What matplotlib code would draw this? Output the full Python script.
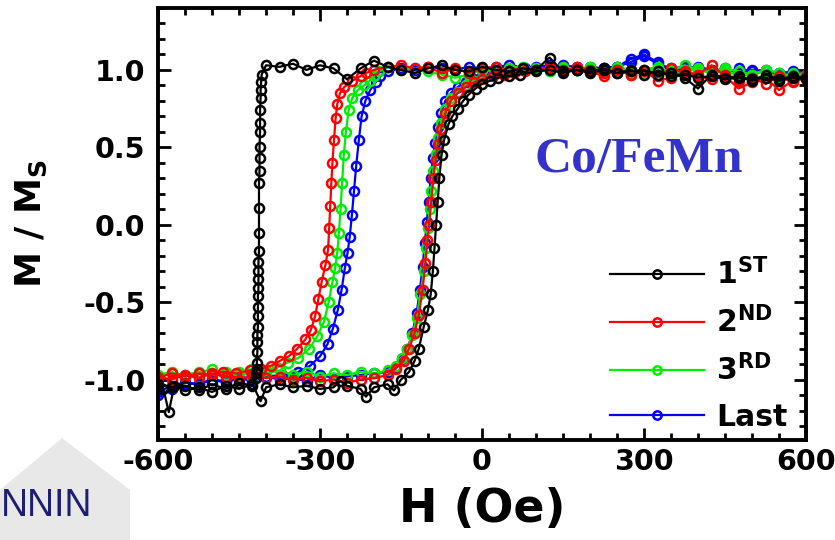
import numpy as np
import matplotlib
matplotlib.use("Agg")
import matplotlib.pyplot as plt
from matplotlib.ticker import MultipleLocator
from matplotlib.patches import Polygon

plt.rcParams['font.family'] = ['DejaVu Sans']
plt.rcParams['mathtext.fontset'] = 'custom'
plt.rcParams['mathtext.rm'] = 'DejaVu Sans'
plt.rcParams['mathtext.bf'] = 'DejaVu Sans:bold'

# ---------------- data (H in Oe, M/Ms) ----------------
labels = ['1$^{\\mathbf{ST}}$', '2$^{\\mathbf{ND}}$', '3$^{\\mathbf{RD}}$', 'Last']
colors = ['#000000', '#ff0000', '#00ee00', '#0000ff']

# 1st loop (black)
h1_down = [600, 575, 550, 525, 500, 475, 450, 425, 400, 375, 350, 325, 300, 275, 250, 225, 200, 175, 150, 125,
           100, 75, 50, 25, 0, -25, -50, -75, -100, -125, -150, -175, -200, -225, -250, -275, -300, -325, -350,
           -375, -400,
           -408, -409, -410, -410, -411, -411, -411, -412, -412, -412, -413, -413, -413, -413, -414, -414, -414,
           -414, -415, -415, -415, -415, -416, -416, -416, -417, -417, -418, -418,
           -425, -450, -475, -500, -525, -550, -575, -600]
m1_down = [0.95, 0.96, 0.94, 0.97, 0.93, 0.96, 0.95, 0.97, 0.88, 0.95, 0.98, 0.97, 1.00, 0.99, 0.98, 1.00, 0.98,
           1.00, 0.99, 1.08, 1.00, 1.01, 0.99, 1.00, 1.02, 0.99, 1.00, 1.03, 1.01, 0.98, 1.00, 1.02, 1.06, 1.01,
           0.94, 1.01, 1.03, 1.00, 1.04, 1.02, 1.03,
           0.97, 0.92, 0.87, 0.82, 0.74, 0.66, 0.60, 0.50, 0.43, 0.35, 0.27, 0.11, -0.05, -0.17, -0.24, -0.30,
           -0.35, -0.41, -0.46, -0.53, -0.59, -0.66, -0.71, -0.76, -0.82, -0.89, -0.93, -0.96, -0.99,
           -1.04, -1.02, -1.06, -1.03, -1.07, -1.04, -1.05, -1.03]
h1_up = [-600, -590, -580, -570, -550, -525, -500, -475, -450, -425, -410, -400, -375, -350, -325, -300, -275,
         -262, -250, -225, -215, -200, -175, -163, -150, -135, -125, -117, -108, -100, -95, -91, -88, -85, -82,
         -79, -75, -70, -62, -55, -45, -35, -25, -12, 0, 15, 30, 50, 70, 100, 125, 150, 175, 200, 225, 250,
         275, 300, 325, 350, 375, 400, 425, 450, 475, 500, 525, 550, 575, 600]
m1_up = [-1.05, -1.06, -1.21, -1.04, -1.07, -1.05, -1.08, -1.04, -1.06, -1.03, -1.14, -1.05, -1.03, -1.05,
         -1.04, -1.06, -1.05, -1.01, -1.04, -1.06, -1.11, -1.05, -1.03, -1.07, -1.00, -0.95, -0.88, -0.80,
         -0.66, -0.55, -0.45, -0.30, -0.15, 0.00, 0.15, 0.30, 0.45, 0.55, 0.65, 0.70, 0.75, 0.80, 0.84, 0.88,
         0.91, 0.93, 0.95, 0.96, 0.97, 0.99, 1.00, 0.98, 1.00, 0.99, 1.01, 0.98, 1.00, 0.97, 0.99, 0.96, 0.97,
         0.95, 0.96, 0.94, 0.95, 0.94, 0.95, 0.93, 0.95, 0.94]

# 2nd loop (red)
h2_down = [600, 575, 550, 525, 500, 475, 450, 425, 400, 375, 350, 325, 300, 275, 250, 225, 200, 175, 150, 125,
           100, 75, 50, 25, 0, -25, -50, -75, -100, -125, -150, -175, -200,
           -215, -225, -240, -255, -263, -268, -271, -274, -277, -279, -281, -283, -285, -290, -297, -303, -309,
           -317, -327, -342, -358, -375, -390, -410, -430, -455, -480, -500, -525, -550, -575, -600]
m2_down = [0.97, 0.93, 0.87, 0.95, 0.92, 0.88, 0.96, 1.03, 0.97, 0.99, 0.95, 0.93, 1.00, 0.97, 1.00, 0.96, 0.99,
           1.01, 1.00, 1.02, 1.00, 1.01, 0.99, 1.02, 1.01, 0.98, 1.01, 0.98, 1.02, 1.01, 1.03, 1.02, 1.00,
           0.98, 0.96, 0.93, 0.89, 0.85, 0.78, 0.69, 0.55, 0.40, 0.27, 0.12, -0.02, -0.16, -0.26, -0.37, -0.48,
           -0.59, -0.68, -0.74, -0.80, -0.85, -0.88, -0.91, -0.93, -0.94, -0.96, -0.95, -0.97, -0.96, -0.98,
           -0.96, -0.99]
h2_up = [-600, -575, -550, -525, -500, -475, -450, -425, -400, -375, -350, -325, -300, -275, -250, -225, -200,
         -175, -160, -145, -135, -125, -117, -110, -105, -101, -98, -94, -90, -86, -82, -76, -68, -58, -45, -30,
         -15, 0, 20, 40, 60, 80, 100, 125, 150, 175, 200, 225, 250, 275, 300, 325, 350, 375, 400, 425, 450, 475,
         500, 525, 550, 575, 600]
m2_up = [-0.98, -1.00, -0.97, -0.99, -0.96, -0.98, -1.00, -0.97, -0.99, -0.98, -1.00, -0.99, -1.01, -1.00,
         -1.02, -1.00, -0.99, -0.97, -0.93, -0.88, -0.80, -0.70, -0.58, -0.42, -0.25, -0.10, 0.00, 0.15, 0.30,
         0.42, 0.52, 0.62, 0.72, 0.80, 0.85, 0.89, 0.92, 0.94, 0.96, 0.97, 0.98, 0.99, 1.00, 1.01, 0.99, 1.02,
         1.00, 0.98, 1.00, 0.97, 0.99, 0.96, 1.01, 0.98, 0.96, 0.94, 0.97, 0.93, 0.95, 0.91, 0.96, 0.92, 0.95]

# 3rd loop (green)
h3_down = [600, 575, 550, 525, 500, 475, 450, 425, 400, 375, 350, 325, 300, 275, 250, 225, 200, 175, 150, 125,
           100, 75, 50, 25, 0, -25, -50, -75, -100, -125, -150, -175,
           -190, -200, -208, -218, -230, -240, -247, -252, -256, -259, -262, -265, -268, -272, -277, -284, -293,
           -305, -320, -340, -360, -380, -400, -425, -450, -475, -500, -525, -550, -575, -600]
m3_down = [0.97, 0.98, 0.95, 0.99, 0.97, 0.96, 1.00, 0.98, 1.01, 0.99, 0.97, 1.02, 1.00, 0.98, 1.01, 0.99, 1.02,
           1.00, 1.01, 0.99, 1.00, 1.02, 1.01, 0.99, 1.00, 0.97, 0.95, 0.97, 0.99, 1.01, 1.00, 1.02,
           0.99, 0.96, 0.93, 0.90, 0.87, 0.82, 0.74, 0.60, 0.45, 0.27, 0.10, -0.05, -0.18, -0.28, -0.37, -0.50,
           -0.63, -0.72, -0.80, -0.86, -0.89, -0.92, -0.94, -0.93, -0.96, -0.95, -0.97, -0.95, -0.97, -0.96, -0.98]
h3_up = [-600, -575, -550, -525, -500, -475, -450, -425, -400, -375, -350, -325, -300, -275, -250, -225, -200,
         -175, -160, -148, -138, -129, -121, -114, -108, -104, -100, -97, -94, -90, -86, -82, -76, -68, -58, -45,
         -30, -15, 0, 20, 40, 60, 80, 100, 125, 150, 175, 200, 225, 250, 275, 300, 325, 350, 375, 400, 425, 450,
         475, 500, 525, 550, 575, 600]
m3_up = [-0.97, -0.95, -0.98, -0.96, -0.93, -0.97, -0.95, -0.98, -0.96, -0.94, -0.97, -0.95, -0.98, -0.96,
         -0.97, -0.95, -0.96, -0.94, -0.91, -0.86, -0.80, -0.71, -0.60, -0.45, -0.30, -0.15, -0.02, 0.10, 0.22,
         0.35, 0.46, 0.56, 0.66, 0.75, 0.82, 0.86, 0.90, 0.93, 0.95, 0.96, 0.98, 0.99, 1.00, 1.01, 0.99, 1.02,
         1.00, 1.01, 0.99, 1.02, 1.00, 0.98, 1.01, 0.99, 1.03, 1.00, 0.98, 1.01, 0.99, 0.97, 1.00, 0.98, 0.96,
         0.97]

# Last loop (blue)
h4_down = [600, 575, 550, 525, 500, 475, 450, 425, 400, 375, 350, 325, 300, 275, 250, 225, 200, 175, 150, 125,
           100, 75, 50, 25, 0, -25, -50, -75, -100, -125, -150, -175,
           -188, -197, -207, -216, -223, -228, -233, -237, -241, -245, -249, -254, -260, -267, -276, -286, -300,
           -318, -340, -370, -400, -425, -450, -475, -500, -525, -550, -575, -600]
m4_down = [0.97, 0.99, 0.98, 1.00, 0.99, 1.01, 0.98, 1.00, 1.02, 1.01, 0.99, 1.05, 1.10, 1.07, 1.02, 1.01, 1.02,
           1.00, 1.01, 1.03, 1.02, 1.01, 1.03, 1.02, 1.01, 1.02, 1.00, 1.01, 1.02, 1.00, 1.01, 0.99,
           0.96, 0.92, 0.87, 0.80, 0.70, 0.55, 0.38, 0.22, 0.06, -0.08, -0.18, -0.28, -0.42, -0.55, -0.67, -0.77,
           -0.85, -0.91, -0.95, -0.97, -0.98, -1.00, -0.99, -1.01, -1.00, -1.03, -1.02, -1.06, -1.10]
h4_up = [-600, -575, -550, -525, -500, -475, -450, -425, -400, -375, -350, -325, -300, -275, -250, -225, -200,
         -175, -160, -148, -138, -129, -121, -115, -110, -106, -102, -99, -95, -91, -87, -82, -76, -68, -58, -45,
         -30, -15, 0, 20, 40, 60, 80, 100, 125, 150, 175, 200, 225, 250, 275, 300, 325, 350, 375, 400, 425, 450,
         475, 500, 525, 550, 575, 600]
m4_up = [-1.08, -1.04, -1.02, -1.03, -1.00, -1.02, -0.99, -1.01, -0.98, -1.00, -0.99, -1.01, -0.97, -0.99,
         -0.98, -0.97, -0.96, -0.95, -0.92, -0.87, -0.80, -0.70, -0.57, -0.42, -0.27, -0.12, 0.02, 0.15, 0.30,
         0.43, 0.53, 0.63, 0.72, 0.80, 0.85, 0.89, 0.92, 0.94, 0.96, 0.98, 0.99, 1.00, 1.01, 1.00, 1.01, 1.03,
         1.02, 1.00, 1.01, 1.02, 1.05, 1.09, 1.04, 1.01, 1.02, 1.00, 0.99, 1.01, 0.98, 1.00, 0.99, 0.97, 0.98,
         0.96]

x_ticks = [-600, -300, 0, 300, 600]
y_ticks = [-1.0, -0.5, 0.0, 0.5, 1.0]

loops = [(h1_down + h1_up, m1_down + m1_up),
         (h2_down + h2_up, m2_down + m2_up),
         (h3_down + h3_up, m3_down + m3_up),
         (h4_down + h4_up, m4_down + m4_up)]

# ---------------- figure ----------------
fig = plt.figure(figsize=(8.35, 5.40), dpi=100)
ax = fig.add_axes([158 / 835, 100 / 540, 648 / 835, 432 / 540])

handles = [None] * 4
for i in [3, 2, 1, 0]:
    h, m = loops[i]
    ln, = ax.plot(h, m, color=colors[i], lw=1.6, marker='o', ms=6.5, mfc='none', mew=1.8,
                  label=labels[i])
    handles[i] = ln

ax.set_xlim(-600, 600)
ax.set_ylim(-1.39, 1.40)
ax.set_xticks(x_ticks)
ax.set_xticklabels(['-600', '-300', '0', '300', '600'])
ax.set_yticks(y_ticks)
ax.set_yticklabels(['-1.0', '-0.5', '0.0', '0.5', '1.0'])
ax.xaxis.set_minor_locator(MultipleLocator(50))
ax.yaxis.set_minor_locator(MultipleLocator(0.1))
ax.tick_params(which='both', direction='in', top=True, right=True, width=2.0)
ax.tick_params(which='major', length=9, labelsize=20.5, pad=9)
ax.tick_params(which='minor', length=5)
ax.tick_params(axis='x', which='major', pad=6)
for lab in ax.get_xticklabels() + ax.get_yticklabels():
    lab.set_fontweight('bold')
for sp in ax.spines.values():
    sp.set_linewidth(2.8)

ax.set_xlabel('H (Oe)', fontsize=33, fontweight='bold', labelpad=8)
ax.set_ylabel('M / M$_{\\mathbf{S}}$', fontsize=26, fontweight='bold', labelpad=25)

ax.text(290, 0.42, 'Co/FeMn', family='Liberation Serif', fontweight='bold', fontsize=37,
        color='#3333cc', ha='center', va='center')

leg = ax.legend(handles=handles, loc='lower right', frameon=False, fontsize=21.5, handlelength=3.15,
                handletextpad=0.4, labelspacing=0.53, borderaxespad=0.0, numpoints=1,
                bbox_to_anchor=(0.99, -0.008))
for t in leg.get_texts():
    t.set_fontweight('bold')
for lh in leg.legend_handles:
    lh.set_markersize(6)
    lh.set_markeredgewidth(1.8)
    lh.set_linewidth(1.6)

# logo (bottom-left)
tri = Polygon([(0, 1 - 490 / 540), (62 / 835, 1 - 438 / 540), (130 / 835, 1 - 490 / 540),
               (130 / 835, 0), (0, 0)], closed=True, transform=fig.transFigure,
              facecolor='#e8e8e8', edgecolor='none', zorder=0)
fig.add_artist(tri)
fig.text(1 / 835, 1 - 516 / 540, 'NNIN', fontsize=27, color='#1d1d72',
         family='Liberation Sans', ha='left', va='baseline')

fig.savefig('out.png', dpi=100)
